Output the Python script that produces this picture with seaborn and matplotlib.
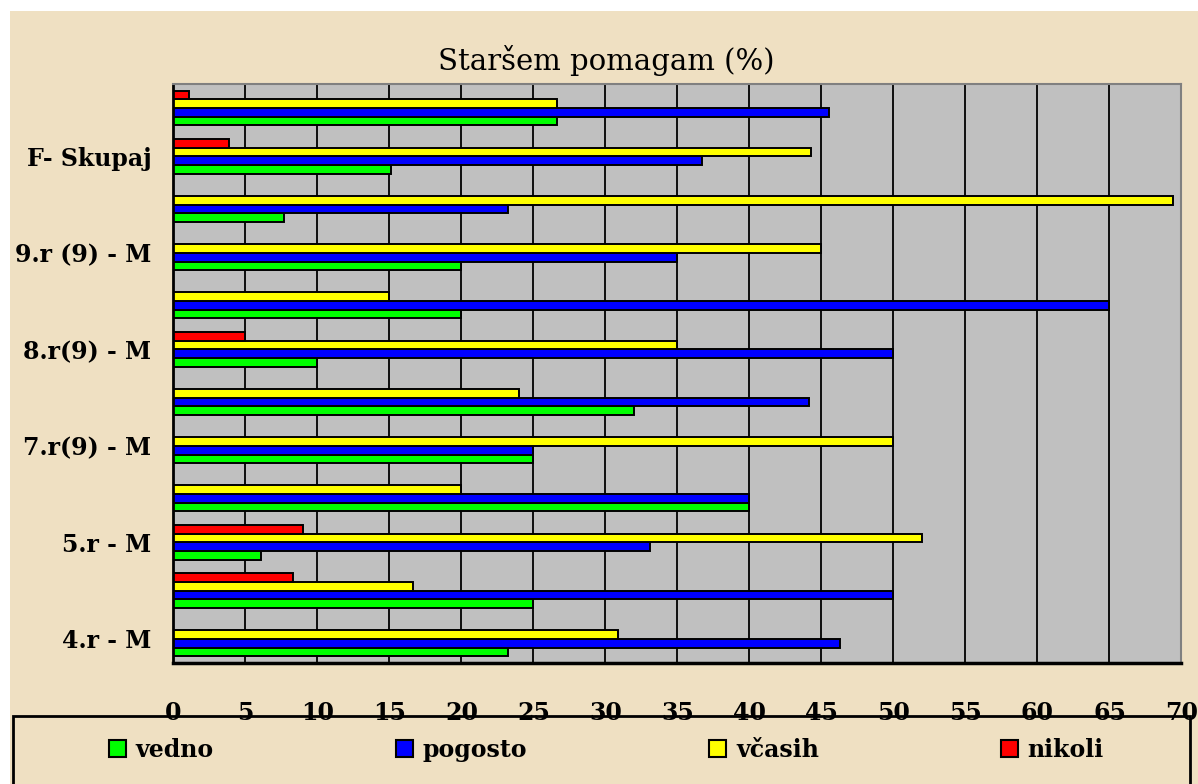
import matplotlib
matplotlib.use("Agg")
import matplotlib.pyplot as plt
from matplotlib.patches import Patch, Rectangle
import pandas as pd
import seaborn as sns

# categories from bottom to top (only every other one is labelled on the axis)
categories = ["4.r - M", "4.r - Ž", "5.r - M", "5.r - Ž", "7.r(9) - M", "7.r(9) - Ž",
              "8.r(9) - M", "8.r(9) - Ž", "9.r (9) - M", "9.r (9) - Ž", "F- Skupaj", "M- Skupaj"]
tick_labels = ["4.r - M", "", "5.r - M", "", "7.r(9) - M", "",
               "8.r(9) - M", "", "9.r (9) - M", "", "F- Skupaj", ""]
answers = ["vedno", "pogosto", "včasih", "nikoli"]
colors = ["#00FF00", "#0000FF", "#FFFF00", "#FF0000"]

vedno = [23.2, 25, 6.1, 40, 25, 32, 10, 20, 20, 7.7, 15.1, 26.6]
pogosto = [46.3, 50, 33.1, 40, 25, 44.1, 50, 65, 35, 23.2, 36.7, 45.5]
vcasih = [30.9, 16.6, 52.0, 20, 50, 24, 35, 15, 45, 69.4, 44.3, 26.6]
nikoli = [0, 8.3, 9.0, 0, 0, 0, 5, 0, 0, 0, 3.85, 1.1]

series = {"vedno": vedno, "pogosto": pogosto, "včasih": vcasih, "nikoli": nikoli}
rows = []
for ans, vals in series.items():
    for cat, v in zip(categories, vals):
        rows.append({"razred": cat, "odgovor": ans, "odstotek": v})
df = pd.DataFrame(rows)

sns.set_style("white")
plt.rcParams["font.family"] = ["DejaVu Serif", "DejaVu Sans"]
plt.rcParams["text.color"] = "black"
plt.rcParams["xtick.color"] = "black"
plt.rcParams["ytick.color"] = "black"
plt.rcParams["axes.labelcolor"] = "black"

fig = plt.figure(figsize=(11.98, 7.84), dpi=100)
fig.patch.set_facecolor("white")
# parchment background with thin white margin top/left
fig.add_artist(Rectangle((10 / 1198, 0), 1, 1 - 11 / 784, transform=fig.transFigure,
                         facecolor="#EFE0C2", edgecolor="none", zorder=-10))

ax = fig.add_axes([0.14482, 0.15434, 0.84140, 0.73852])
sns.barplot(data=df, x="odstotek", y="razred", hue="odgovor", order=categories,
            hue_order=answers, palette=colors, orient="h", width=0.72,
            edgecolor="black", linewidth=1.4, saturation=1, errorbar=None, ax=ax)
if ax.legend_ is not None:
    ax.legend_.remove()

ax.set_facecolor("#C0C0C0")
ax.set_xlim(0, 70)
ax.set_ylim(-0.5, len(categories) - 0.5)
ax.set_xticks(range(0, 75, 5))
ax.set_xticklabels([str(t) for t in range(0, 75, 5)], fontsize=17, fontweight="bold")
ax.set_yticks([i - 0.5 for i in range(len(categories) + 1)])
ax.set_yticklabels([])
ax.set_yticks(range(len(categories)), labels=tick_labels, minor=True)
for lbl in ax.get_yticklabels(minor=True):
    lbl.set_fontsize(17)
    lbl.set_fontweight("bold")
    lbl.set_verticalalignment("center_baseline")
ax.tick_params(axis="x", direction="out", length=4.5, width=1.5, pad=23, colors="black")
ax.tick_params(axis="y", which="major", direction="out", length=4.5, width=1.5, colors="black")
ax.tick_params(axis="y", which="minor", length=0, pad=16, colors="black")
ax.set_xlabel("")
ax.set_ylabel("")

ax.xaxis.grid(True, color="black", linewidth=1.3)
ax.yaxis.grid(False)
ax.set_axisbelow(True)

ax.spines["left"].set_color("black")
ax.spines["left"].set_linewidth(2)
ax.spines["bottom"].set_color("black")
ax.spines["bottom"].set_linewidth(2.5)
for side in ["top", "right"]:
    ax.spines[side].set_color("#808080")
    ax.spines[side].set_linewidth(1.5)

fig.text(0.506, 0.923, "Staršem pomagam (%)", ha="center", va="center", fontsize=21,
         color="black")

# legend box running off the bottom of the image
fig.add_artist(Rectangle((13 / 1198, -0.05), (1190 - 13) / 1198, (784 - 716) / 784 + 0.05,
                         transform=fig.transFigure, facecolor="none", edgecolor="black",
                         linewidth=2, zorder=5))
handles = [Patch(facecolor=c, edgecolor="black", linewidth=1.5) for c in colors]
fig.legend(handles, answers, loc="center left", ncol=4, mode="expand",
           bbox_to_anchor=(109 / 1198, 1 - 750 / 784, (1104 - 109) / 1198, 0),
           frameon=False, borderpad=0, borderaxespad=0, handlelength=0.72,
           handleheight=0.72, handletextpad=0.4, labelcolor="black",
           prop={"size": 17, "weight": "bold"})

fig.savefig("out.png", dpi=100)
